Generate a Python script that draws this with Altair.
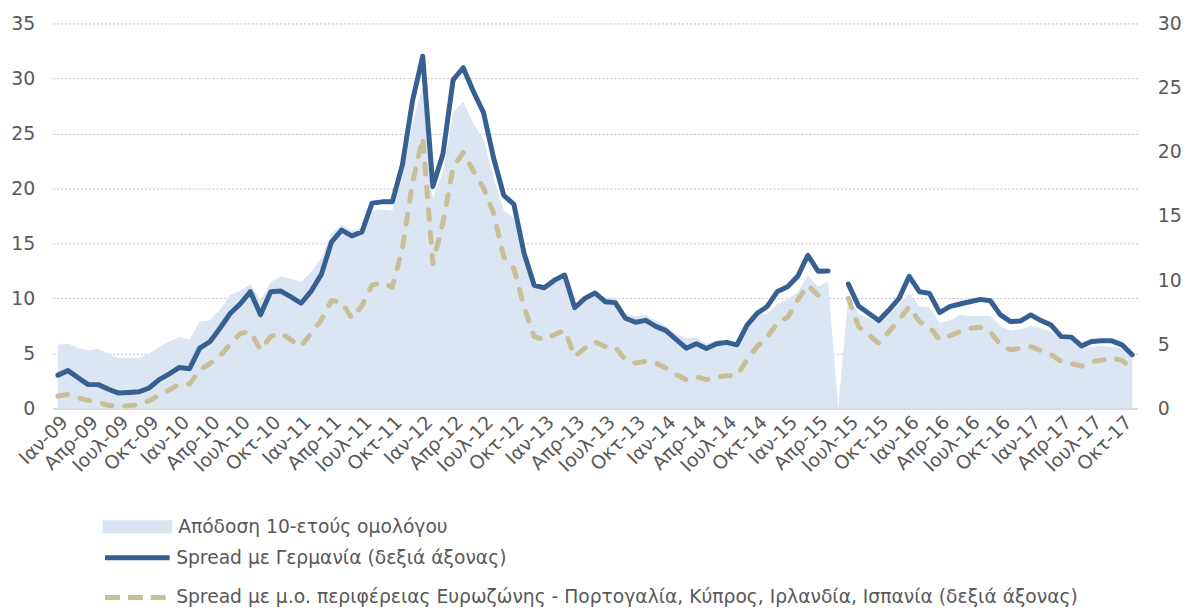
import json
import altair as alt
import pandas as pd

# ---------------- data ----------------
month_abbr = ["Ιαν", "Απρ", "Ιουλ", "Οκτ"]
years = ["09", "10", "11", "12", "13", "14", "15", "16", "17"]
tick_labels = [f"{m}-{y}" for y in years for m in month_abbr]  # every 3rd month

series_names = [
    "Απόδοση 10-ετούς ομολόγου",
    "Spread με Γερμανία (δεξιά άξονας)",
    "Spread με μ.ο. περιφέρειας Ευρωζώνης - Πορτογαλία, Κύπρος, Ιρλανδία, Ισπανία (δεξιά άξονας)",
]

# 10-year bond yield (left axis), monthly Jan-09 .. Nov-17
yield_10y = [
    5.8, 5.9, 5.5, 5.3, 5.4, 5.0, 4.6, 4.6, 4.6, 5.0, 5.6, 6.1,
    6.5, 6.3, 7.9, 8.0, 9.0, 10.3, 10.7, 11.3, 9.8, 11.5, 12.0, 11.8,
    11.5, 12.4, 13.7, 15.9, 16.7, 16.2, 16.4, 18.0, 18.1, 18.0, 21.1, 25.9,
    29.2, 19.1, 21.5, 26.9, 27.9, 25.9, 24.5, 21.0, 18.0, 17.3, 13.5, 11.2,
    11.0, 11.7, 12.1, 9.3, 10.1, 10.6, 10.1, 10.1, 8.6, 8.4, 8.5, 8.0,
    7.5, 6.8, 6.4, 6.4, 5.9, 6.2, 6.2, 6.0, 7.7, 8.6, 8.6, 9.5,
    9.9, 10.6, 12.1, 11.1, 11.5, 0.0, 10.3, 8.6, 8.2, 7.8, 8.6, 9.5,
    10.5, 9.3, 9.2, 7.8, 8.0, 8.5, 8.4, 8.4, 8.4, 7.5, 7.1, 7.2,
    7.5, 7.3, 7.0, 6.3, 6.2, 5.5, 5.6, 5.7, 5.6, 5.5, 4.7,
]

# spread vs Germany (right axis)
spread_de = [
    2.6, 2.95, 2.4, 1.86, 1.86, 1.5, 1.2, 1.25, 1.3, 1.6, 2.25, 2.7,
    3.2, 3.1, 4.7, 5.2, 6.25, 7.4, 8.15, 9.1, 7.3, 9.1, 9.15, 8.7,
    8.2, 9.15, 10.45, 12.97, 13.9, 13.45, 13.75, 16.0, 16.1, 16.1, 19.0, 24.0,
    27.45, 17.3, 19.85, 25.6, 26.55, 24.7, 23.05, 19.5, 16.6, 15.9, 12.1, 9.6,
    9.4, 10.0, 10.4, 7.85, 8.58, 9.0, 8.32, 8.25, 7.03, 6.72, 6.87, 6.4,
    6.07, 5.38, 4.7, 5.04, 4.68, 5.04, 5.15, 4.96, 6.5, 7.42, 7.95, 9.12,
    9.48, 10.3, 11.94, 10.7, 10.72, None, 9.69, 7.98, 7.42, 6.85, 7.67, 8.58,
    10.3, 9.1, 8.97, 7.47, 7.93, 8.14, 8.32, 8.5, 8.4, 7.29, 6.77, 6.82,
    7.29, 6.85, 6.5, 5.6, 5.56, 4.88, 5.22, 5.27, 5.27, 4.96, 4.19,
]

# spread vs euro-area periphery average (right axis)
spread_periph = [
    0.96, 1.1, 0.83, 0.63, 0.47, 0.25, 0.18, 0.21, 0.3, 0.6, 1.05, 1.45,
    1.9, 1.9, 3.0, 3.5, 4.1, 5.0, 5.85, 6.0, 4.57, 5.62, 5.87, 5.35,
    4.85, 5.87, 6.9, 8.4, 8.3, 7.03, 8.0, 9.6, 9.8, 9.45, 12.5, 17.6,
    21.1, 11.3, 14.5, 18.8, 19.95, 18.5, 17.2, 15.2, 11.8, 10.9, 7.93, 5.6,
    5.35, 5.74, 6.1, 4.05, 4.7, 5.2, 4.83, 4.78, 3.8, 3.54, 3.67, 3.54,
    3.15, 2.64, 2.25, 2.46, 2.25, 2.46, 2.56, 2.56, 3.8, 4.83, 5.55, 6.7,
    7.1, 8.45, 9.61, 8.84, 8.7, None, 8.58, 6.38, 5.74, 5.09, 5.99, 6.9,
    7.93, 6.77, 6.38, 5.35, 5.67, 5.99, 6.25, 6.33, 5.99, 4.96, 4.57, 4.7,
    4.83, 4.5, 4.19, 3.67, 3.5, 3.3, 3.64, 3.77, 3.93, 3.75, 3.1,
]

# ---------------- tables ----------------
n = len(yield_10y)
df_area = pd.DataFrame({"i": list(range(n)), "val": yield_10y, "name": series_names[0]})


def line_table(name, vals):
    rows, seg = [], 0
    for i, v in enumerate(vals):
        if v is None:
            seg += 1
            continue
        rows.append({"i": i, "val": v, "name": name, "seg": seg})
    return pd.DataFrame(rows)


df_de = line_table(series_names[1], spread_de)
df_per = line_table(series_names[2], spread_periph)

# ---------------- style ----------------
FONT = "DejaVu Sans"
TXT = "#595959"
AREA_C = "#DCE6F2"
BLUE = "#376092"
TAN = "#C8BE98"

label_expr = json.dumps(tick_labels, ensure_ascii=False) + "[round(datum.value / 3)]"

x_enc = alt.X(
    "i:Q",
    scale=alt.Scale(domain=[-0.5, n - 0.5], nice=False, zero=False),
    axis=alt.Axis(
        values=list(range(0, n, 3)), labelExpr=label_expr, labelAngle=-45,
        ticks=False, grid=False, domainColor="#D9D9D9", domainWidth=2,
        labelFont=FONT, labelFontSize=19, labelColor=TXT, labelPadding=4,
        labelOverlap=False,
    ),
    title=None,
)

y_right = alt.Y(
    "val:Q",
    scale=alt.Scale(domain=[0, 30], nice=False),
    axis=alt.Axis(
        orient="right", values=list(range(0, 31, 5)), grid=False,
        ticks=False, domain=False, labelFont=FONT, labelFontSize=19,
        labelColor=TXT, labelPadding=20,
    ),
    title=None,
)

legend_common = dict(
    orient="none", labelFont=FONT, labelFontSize=18.8, labelColor=TXT,
    labelLimit=1200, padding=0, legendX=50, title=None,
)

area = alt.Chart(df_area).mark_area(interpolate="linear").encode(
    x=x_enc,
    y=alt.Y(
        "val:Q",
        scale=alt.Scale(domain=[0, 35], nice=False),
        axis=alt.Axis(
            values=list(range(0, 36, 5)), grid=True, gridDash=[2, 2],
            gridColor="#BFBFBF", gridWidth=1, ticks=False, domain=False,
            labelFont=FONT, labelFontSize=19, labelColor=TXT, labelPadding=18,
        ),
        title=None,
    ),
    fill=alt.Fill(
        "name:N",
        scale=alt.Scale(domain=[series_names[0]], range=[AREA_C]),
        legend=alt.Legend(
            legendY=471, symbolType="M-1,-0.19H1V0.19H-1Z",
            symbolSize=4900, symbolStrokeWidth=0, labelOffset=6,
            **legend_common,
        ),
    ),
)

line_de = alt.Chart(df_de).mark_line(
    strokeWidth=5, strokeCap="round", strokeJoin="round"
).encode(
    x=x_enc,
    y=y_right,
    stroke=alt.Stroke(
        "name:N",
        scale=alt.Scale(domain=[series_names[1]], range=[BLUE]),
        legend=alt.Legend(
            legendY=502, symbolType="stroke", symbolSize=4225,
            symbolStrokeWidth=5, labelOffset=4, **legend_common,
        ),
    ),
    detail="seg:N",
)

line_per = alt.Chart(df_per).mark_line(
    strokeWidth=5, strokeCap="round", strokeJoin="round", strokeDash=[10, 13]
).encode(
    x=x_enc,
    y=y_right,
    stroke=alt.Stroke(
        "name:N",
        scale=alt.Scale(domain=[series_names[2]], range=[TAN]),
        legend=alt.Legend(
            legendY=542, symbolType="stroke", symbolSize=4225,
            symbolStrokeWidth=5, symbolDash=[15, 8], labelOffset=4,
            **legend_common,
        ),
    ),
    detail="seg:N",
)

right_layers = alt.layer(line_de, line_per).resolve_scale(stroke="independent")

chart = (
    alt.layer(area, right_layers)
    .resolve_scale(y="independent", stroke="independent")
    .properties(
        width=1090, height=387,
        padding={"left": 45, "top": 14, "right": 46, "bottom": 202},
        autosize=alt.AutoSizeParams(type="none"),
    )
    .configure_view(stroke=None)
)

chart.save("out.html", embed_options={"renderer": "svg", "actions": False})
